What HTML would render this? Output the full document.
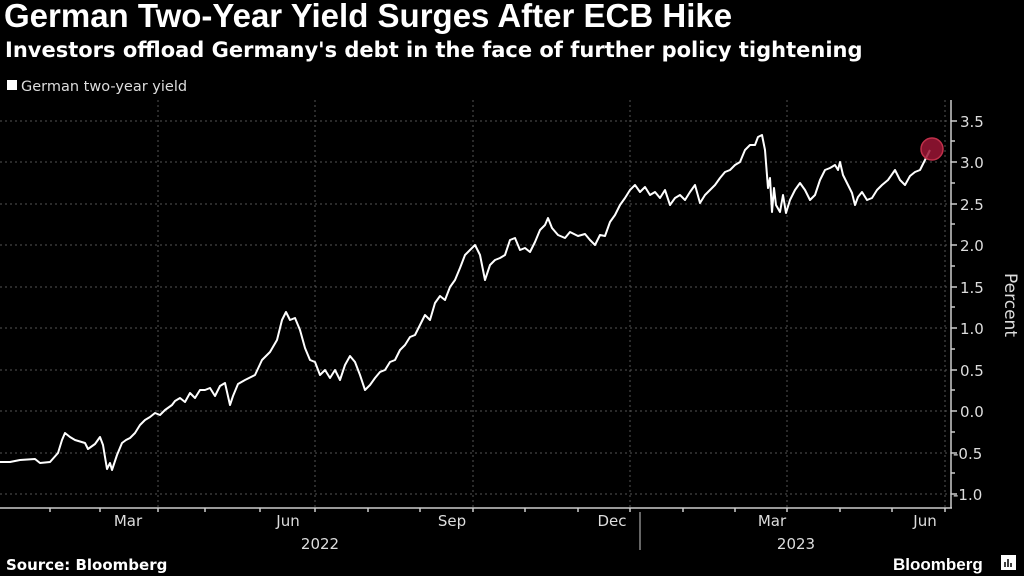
<!DOCTYPE html><html><head><style>
body{margin:0;width:1024px;height:576px;background:#000;overflow:hidden;font-family:"Liberation Sans",sans-serif;color:#fff}
.t{position:absolute;left:4px;top:-3px;font-size:33px;font-weight:bold;letter-spacing:0px}
.s{position:absolute;left:5px;top:38px;font-family:"DejaVu Sans",sans-serif;font-size:21px;font-weight:bold}
</style></head><body>
<div class="t">German Two-Year Yield Surges After ECB Hike</div>
<div class="s">Investors offload Germany's debt in the face of further policy tightening</div>
<svg width="1024" height="576" style="position:absolute;left:0;top:0">
<rect x="7" y="80" width="10" height="10" fill="#fff"/>
<text x="21" y="91" font-size="14.5" fill="#ddd" font-family="DejaVu Sans,sans-serif">German two-year yield</text>
<g stroke="#555" stroke-dasharray="2,3" stroke-width="1">
<line x1="0" y1="121" x2="951" y2="121"/><line x1="0" y1="162" x2="951" y2="162"/><line x1="0" y1="204" x2="951" y2="204"/><line x1="0" y1="245" x2="951" y2="245"/><line x1="0" y1="287" x2="951" y2="287"/><line x1="0" y1="328" x2="951" y2="328"/><line x1="0" y1="370" x2="951" y2="370"/><line x1="0" y1="411" x2="951" y2="411"/><line x1="0" y1="453" x2="951" y2="453"/><line x1="0" y1="494" x2="951" y2="494"/>
<line x1="158" y1="100" x2="158" y2="508"/><line x1="315" y1="100" x2="315" y2="508"/><line x1="473" y1="100" x2="473" y2="508"/><line x1="630" y1="100" x2="630" y2="508"/><line x1="787" y1="100" x2="787" y2="508"/><line x1="945" y1="100" x2="945" y2="508"/>
</g>
<g stroke="#ccc" stroke-width="1.5">
<line x1="0" y1="508" x2="952" y2="508"/><line x1="951" y1="100" x2="951" y2="508"/>
<line x1="50" y1="508" x2="50" y2="512"/><line x1="100" y1="508" x2="100" y2="512"/><line x1="158" y1="508" x2="158" y2="512"/><line x1="205" y1="508" x2="205" y2="512"/><line x1="260" y1="508" x2="260" y2="512"/><line x1="315" y1="508" x2="315" y2="512"/><line x1="368" y1="508" x2="368" y2="512"/><line x1="420" y1="508" x2="420" y2="512"/><line x1="473" y1="508" x2="473" y2="512"/><line x1="525" y1="508" x2="525" y2="512"/><line x1="578" y1="508" x2="578" y2="512"/><line x1="630" y1="508" x2="630" y2="512"/><line x1="683" y1="508" x2="683" y2="512"/><line x1="735" y1="508" x2="735" y2="512"/><line x1="787" y1="508" x2="787" y2="512"/><line x1="840" y1="508" x2="840" y2="512"/><line x1="892" y1="508" x2="892" y2="512"/><line x1="945" y1="508" x2="945" y2="512"/>
<line x1="640" y1="512" x2="640" y2="550" stroke="#888"/>
<line x1="951" y1="121" x2="957" y2="121"/><line x1="951" y1="162" x2="957" y2="162"/><line x1="951" y1="204" x2="957" y2="204"/><line x1="951" y1="245" x2="957" y2="245"/><line x1="951" y1="287" x2="957" y2="287"/><line x1="951" y1="328" x2="957" y2="328"/><line x1="951" y1="370" x2="957" y2="370"/><line x1="951" y1="411" x2="957" y2="411"/><line x1="951" y1="453" x2="957" y2="453"/><line x1="951" y1="494" x2="957" y2="494"/>
<line x1="951" y1="141" x2="955" y2="141"/><line x1="951" y1="183" x2="955" y2="183"/><line x1="951" y1="224" x2="955" y2="224"/><line x1="951" y1="266" x2="955" y2="266"/><line x1="951" y1="307" x2="955" y2="307"/><line x1="951" y1="349" x2="955" y2="349"/><line x1="951" y1="390" x2="955" y2="390"/><line x1="951" y1="432" x2="955" y2="432"/><line x1="951" y1="473" x2="955" y2="473"/>
</g>
<g font-size="15" fill="#ddd" font-family="DejaVu Sans,sans-serif">
<text x="960" y="127">3.5</text><text x="960" y="168">3.0</text><text x="960" y="210">2.5</text><text x="960" y="251">2.0</text><text x="960" y="293">1.5</text><text x="960" y="334">1.0</text><text x="960" y="376">0.5</text><text x="960" y="417">0.0</text><text x="953" y="459">-0.5</text><text x="953" y="500">-1.0</text>
<text transform="translate(1005,305) rotate(90)" font-size="17" text-anchor="middle">Percent</text>
</g>
<g font-size="15" fill="#ddd" font-family="DejaVu Sans,sans-serif" text-anchor="middle">
<text x="128" y="526">Mar</text><text x="288" y="526">Jun</text><text x="452" y="526">Sep</text><text x="612" y="526">Dec</text><text x="772" y="526">Mar</text><text x="925" y="526">Jun</text>
<text x="320" y="549">2022</text><text x="796" y="549">2023</text>
</g>
<polyline fill="none" stroke="#fff" stroke-width="2" stroke-linejoin="round" points="0,462 10,462 20,460 35,459 40,463 50,462 58,453 62,440 65,433 70,437 75,440 85,443 88,449 95,444 100,437 103,445 107,469 110,463 112,470 117,455 122,443 126,440 130,438 135,433 140,425 145,420 150,417 155,413 160,415 165,410 172,405 175,401 180,398 185,402 190,393 195,398 200,390 205,390 210,388 215,396 220,386 225,383 230,405 233,396 238,384 245,380 255,375 262,360 270,352 277,340 282,320 286,312 290,320 295,318 300,330 305,348 310,360 315,362 320,375 325,370 330,378 335,370 340,380 345,365 350,356 355,362 360,375 365,390 370,385 375,378 380,372 385,370 390,362 395,360 400,350 405,345 410,337 415,335 420,325 425,315 430,320 435,303 440,296 445,300 450,287 455,280 460,268 465,255 470,250 475,245 480,255 485,280 490,265 495,260 500,258 505,255 510,240 515,238 520,250 525,248 530,252 535,242 540,230 545,225 548,218 552,228 558,235 565,238 570,232 578,236 585,234 590,240 595,245 600,235 605,236 610,222 615,215 620,205 625,198 630,190 635,185 640,192 645,187 650,195 655,192 660,198 665,190 670,205 675,198 680,195 685,200 690,192 695,185 700,203 705,195 710,190 715,185 720,178 725,172 730,170 735,165 740,162 745,150 750,145 755,145 758,137 762,135 765,150 768,188 770,178 772,212 774,188 776,205 780,212 783,195 786,213 790,200 795,190 800,183 805,190 810,200 815,195 820,180 825,170 830,168 835,165 838,170 840,162 843,175 848,185 852,193 855,205 858,197 862,192 867,200 872,198 877,190 882,185 888,180 895,170 900,180 905,185 910,176 915,172 920,170 925,160 930,150"/>
<circle cx="932" cy="149" r="11" fill="#9b1535" fill-opacity="0.85" stroke="#c0304a" stroke-width="1.5"/>
<text x="6" y="570" font-size="15" font-weight="bold" fill="#fff" font-family="DejaVu Sans,sans-serif">Source: Bloomberg</text>
<text x="893" y="570" font-size="17" font-weight="bold" fill="#fff" font-family="Liberation Sans,sans-serif">Bloomberg</text>
<rect x="1001" y="555" width="15" height="15" fill="#fff"/>
<g stroke="#000" stroke-width="1.5"><line x1="1005" y1="567" x2="1005" y2="562"/><line x1="1008" y1="567" x2="1008" y2="559"/><line x1="1011" y1="567" x2="1011" y2="563"/></g>
</svg>
</body></html>
